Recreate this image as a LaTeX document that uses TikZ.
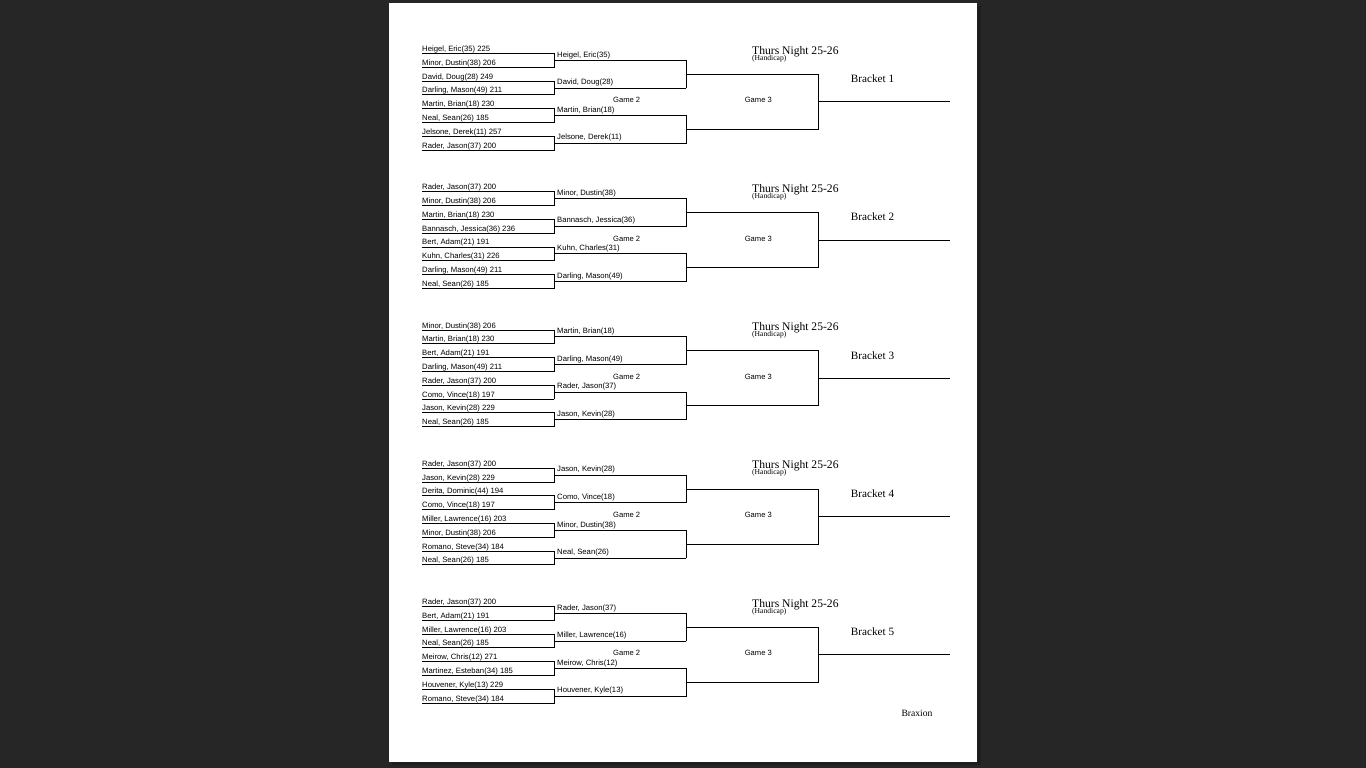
\documentclass[tikz,border=0pt]{standalone}
\usepackage{fontspec}
\setmainfont{Liberation Serif}
\newfontfamily\arialf{Liberation Sans}
\definecolor{bgdark}{HTML}{262626}
\definecolor{shadowc}{HTML}{1E1E1E}
\def\cm{,}
\tikzset{
  bline/.style={line width=0.9pt, black, line cap=rect},
  entrant/.style={anchor=base west, inner sep=0pt, font=\arialf\fontsize{7.7}{8}\selectfont},
  gamelbl/.style={anchor=base, inner sep=0pt, font=\arialf\fontsize{7.6}{8}\selectfont},
  titlelbl/.style={anchor=base west, inner sep=0pt, font=\fontsize{11.6}{13}\selectfont},
  hcaplbl/.style={anchor=base west, inner sep=0pt, font=\fontsize{7.6}{8}\selectfont},
  brlbl/.style={anchor=base west, inner sep=0pt, font=\fontsize{11.2}{13}\selectfont},
}
\begin{document}
\begin{tikzpicture}[x=1pt,y=-1pt]
\useasboundingbox (0,0) rectangle (1366,768);
\fill[bgdark] (0,0) rectangle (1366,768);
\fill[shadowc] (977,6) rectangle (981,765);
\fill[shadowc] (392,762) rectangle (981,765);
\fill[white] (388.5,3) rectangle (976.8,761.8);

\foreach \b/\e/\r in {%
 1/{Heigel\cm{} Eric(35) 225,Minor\cm{} Dustin(38) 206,David\cm{} Doug(28) 249,Darling\cm{} Mason(49) 211,Martin\cm{} Brian(18) 230,Neal\cm{} Sean(26) 185,Jelsone\cm{} Derek(11) 257,Rader\cm{} Jason(37) 200}/{Heigel\cm{} Eric(35),David\cm{} Doug(28),Martin\cm{} Brian(18),Jelsone\cm{} Derek(11)},
 2/{Rader\cm{} Jason(37) 200,Minor\cm{} Dustin(38) 206,Martin\cm{} Brian(18) 230,Bannasch\cm{} Jessica(36) 236,Bert\cm{} Adam(21) 191,Kuhn\cm{} Charles(31) 226,Darling\cm{} Mason(49) 211,Neal\cm{} Sean(26) 185}/{Minor\cm{} Dustin(38),Bannasch\cm{} Jessica(36),Kuhn\cm{} Charles(31),Darling\cm{} Mason(49)},
 3/{Minor\cm{} Dustin(38) 206,Martin\cm{} Brian(18) 230,Bert\cm{} Adam(21) 191,Darling\cm{} Mason(49) 211,Rader\cm{} Jason(37) 200,Como\cm{} Vince(18) 197,Jason\cm{} Kevin(28) 229,Neal\cm{} Sean(26) 185}/{Martin\cm{} Brian(18),Darling\cm{} Mason(49),Rader\cm{} Jason(37),Jason\cm{} Kevin(28)},
 4/{Rader\cm{} Jason(37) 200,Jason\cm{} Kevin(28) 229,Derita\cm{} Dominic(44) 194,Como\cm{} Vince(18) 197,Miller\cm{} Lawrence(16) 203,Minor\cm{} Dustin(38) 206,Romano\cm{} Steve(34) 184,Neal\cm{} Sean(26) 185}/{Jason\cm{} Kevin(28),Como\cm{} Vince(18),Minor\cm{} Dustin(38),Neal\cm{} Sean(26)},
 5/{Rader\cm{} Jason(37) 200,Bert\cm{} Adam(21) 191,Miller\cm{} Lawrence(16) 203,Neal\cm{} Sean(26) 185,Meirow\cm{} Chris(12) 271,Martinez\cm{} Esteban(34) 185,Houvener\cm{} Kyle(13) 229,Romano\cm{} Steve(34) 184}/{Rader\cm{} Jason(37),Miller\cm{} Lawrence(16),Meirow\cm{} Chris(12),Houvener\cm{} Kyle(13)}%
}{
  \pgfmathsetmacro{\off}{(\b-1)*138.25}
  \begin{scope}[yshift={-\off pt}]
    % round 1 entrants
    \foreach \n [count=\i from 0] in \e {
      \pgfmathsetmacro{\yy}{53.5+13.8*\i}
      \coordinate (e\b-\i) at (422,\yy);
      \coordinate (ee\b-\i) at (554,\yy);
      \node[entrant] (te\b-\i) at (422,\yy-2.0) {\n};
      \draw[bline] (e\b-\i) -- (ee\b-\i);
    }
    % round 2
    \foreach \n [count=\j from 0] in \r {
      \pgfmathsetmacro{\yy}{60.4+27.6*\j}
      \coordinate (s\b-\j) at (554,\yy);
      \coordinate (se\b-\j) at (686,\yy);
      \node[entrant] (ts\b-\j) at (557,\yy-3.3) {\n};
      \draw[bline] (s\b-\j) -- (se\b-\j);
    }
    % round-1 verticals
    \foreach \k in {0,2,4,6} {
      \pgfmathtruncatemacro{\kk}{\k+1}
      \draw[bline] (ee\b-\k) -- (ee\b-\kk);
    }
    % round 3
    \coordinate (t\b-0) at (686,74.2);
    \coordinate (te3\b-0) at (818,74.2);
    \coordinate (t\b-1) at (686,129.4);
    \coordinate (te3\b-1) at (818,129.4);
    \draw[bline] (se\b-0) -- (se\b-1);
    \draw[bline] (se\b-2) -- (se\b-3);
    \draw[bline] (t\b-0) -- (te3\b-0);
    \draw[bline] (t\b-1) -- (te3\b-1);
    \draw[bline] (te3\b-0) -- (te3\b-1);
    \coordinate (f\b) at (818,101.8);
    \coordinate (fe\b) at (949.3,101.8);
    \draw[bline] (f\b) -- (fe\b);
    % labels
    \node[gamelbl] (g2\b) at (626.7,102.8) {Game 2};
    \node[gamelbl] (g3\b) at (758.3,102.8) {Game 3};
    \node[titlelbl] (tt\b) at (752,54.2) {Thurs Night 25-26};
    \node[hcaplbl] (hc\b) at (752,60) {(Handicap)};
    \node[brlbl] (bl\b) at (850.7,82.5) {Bracket \b};
  \end{scope}
}
\node[anchor=base, inner sep=0pt, font=\fontsize{9.6}{11}\selectfont] (brax) at (917,716.5) {Braxion};
\end{tikzpicture}
\end{document}
